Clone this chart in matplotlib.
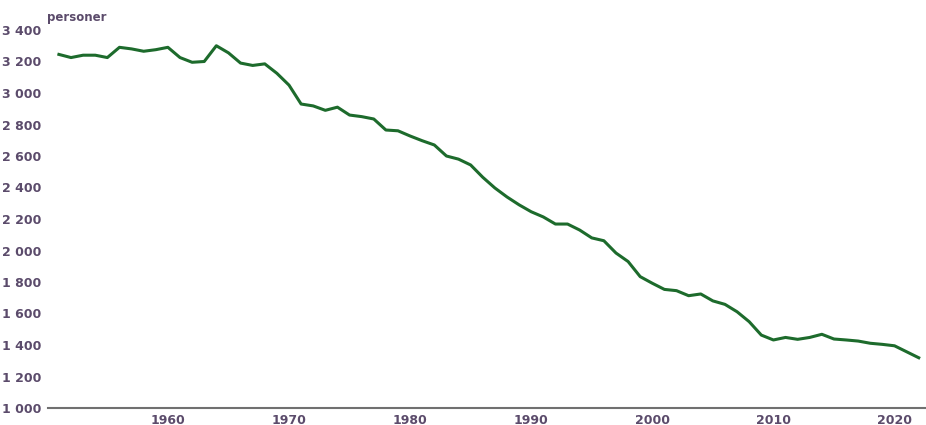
import numpy as np
import matplotlib.pyplot as plt

years = list(range(1951, 2023))
personer = [3245, 3225, 3240, 3240, 3225, 3290, 3280, 3265, 3275, 3290,
            3225, 3195, 3200, 3300, 3255, 3190, 3175, 3185, 3125, 3050,
            2930, 2918, 2890, 2910, 2860, 2850, 2835, 2765, 2760, 2727,
            2697, 2670, 2600, 2580, 2543, 2465, 2397, 2340, 2290, 2246,
            2213, 2168, 2168, 2130, 2080, 2062, 1984, 1930, 1834, 1792,
            1753, 1745, 1713, 1724, 1680, 1658, 1611, 1548, 1463, 1432,
            1448, 1436, 1448, 1468, 1438, 1432, 1425, 1411, 1404, 1395,
            1357, 1319]
yticks = [1000, 1200, 1400, 1600, 1800, 2000, 2200, 2400, 2600, 2800, 3000, 3200, 3400]
xticks = [1960, 1970, 1980, 1990, 2000, 2010, 2020]

txt = '#5b4b6b'
plt.rcParams['font.family'] = ['Liberation Sans Narrow', 'DejaVu Sans']

fig = plt.figure(figsize=(9.26, 4.25), dpi=100)
ax = fig.add_axes([48/926, 1 - 408/425, 878/926, 378/425])
ax.plot(years, personer, color='#1d6b2c', lw=2.2, solid_joinstyle='round')

ax.set_xlim(1950.1, 2022.6)
ax.set_ylim(1000, 3400)
ax.set_yticks(yticks)
ax.set_yticklabels(['{:,}'.format(v).replace(',', ' ') for v in yticks])
ax.set_xticks(xticks)
ax.tick_params(length=0, labelsize=9, labelcolor=txt)
ax.tick_params(axis='x', pad=4)
ax.tick_params(axis='y', pad=5)
for lab in ax.get_xticklabels() + ax.get_yticklabels():
    lab.set_fontweight('bold')

for s in ['top', 'right', 'left']:
    ax.spines[s].set_visible(False)
ax.spines['bottom'].set_color('#707070')
ax.spines['bottom'].set_linewidth(1.5)

fig.text(47/926, 1 - 18/425, 'personer', fontsize=8.5, color=txt,
         fontweight='bold', va='center', ha='left')

fig.savefig('out.png', dpi=100)
